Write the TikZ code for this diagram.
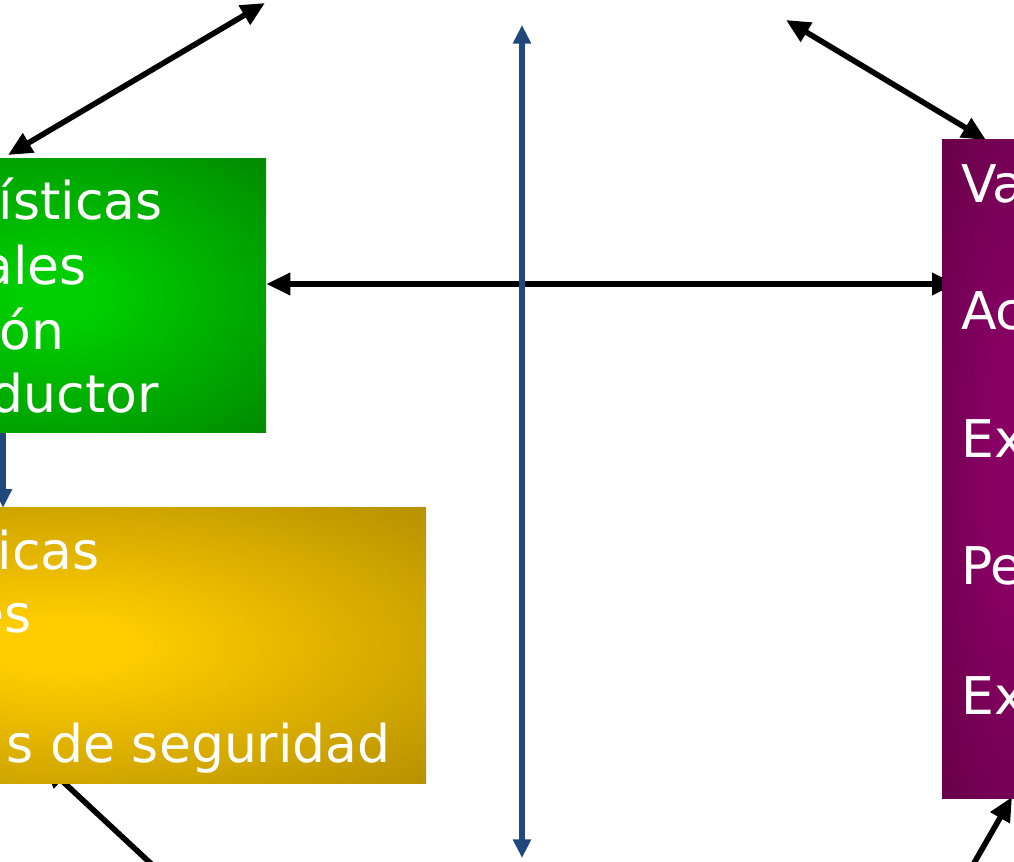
\documentclass[tikz,border=0pt]{standalone}
\usepackage{fontspec}
\setmainfont{DejaVu Sans}
\usetikzlibrary{arrows.meta,backgrounds}

\definecolor{linkblue}{RGB}{31,73,125}
\definecolor{greenlight}{RGB}{0,206,0}
\definecolor{greendark}{RGB}{0,128,0}
\definecolor{goldlight}{RGB}{255,204,0}
\definecolor{golddark}{RGB}{172,136,0}
\definecolor{plumlight}{RGB}{136,0,100}
\definecolor{plumdark}{RGB}{94,0,64}

\pgfdeclareradialshading{greenglow}{\pgfpoint{0bp}{0bp}}{color(0bp)=(greenlight); color(5bp)=(greenlight); color(40bp)=(greendark); color(50bp)=(greendark)}
\pgfdeclareradialshading{goldglow}{\pgfpoint{0bp}{0bp}}{color(0bp)=(goldlight); color(5bp)=(goldlight); color(40bp)=(golddark); color(50bp)=(golddark)}
\pgfdeclareradialshading{plumglow}{\pgfpoint{0bp}{0bp}}{color(0bp)=(plumlight); color(8bp)=(plumlight); color(44bp)=(plumdark); color(50bp)=(plumdark)}

\begin{document}
\begin{tikzpicture}[x=0.75pt,y=-0.75pt,
        factor box/.style={rectangle,inner sep=0pt,shade},
        box text/.style={inner sep=0pt,text=white,font=\fontsize{39}{47}\selectfont},
        link/.style={draw=black,line width=4.2pt,
          {Triangle[length=18pt,width=16pt]}-{Triangle[length=18pt,width=16pt]}},
        blue link/.style={draw=linkblue,line width=4pt,
          {Triangle[length=14pt,width=13pt]}-{Triangle[length=14pt,width=13pt]}}
      ]
      \useasboundingbox (0,0) rectangle (1014,862);

      % boxes, partly outside the page
      \node[factor box,shading=greenglow,minimum width=312pt,minimum height=205.5pt] (greenbox) at (58,296) {};
      \node[factor box,shading=goldglow,minimum width=544.5pt,minimum height=206.25pt] (goldbox) at (63,645.5) {};
      \node[factor box,shading=plumglow,minimum width=102pt,minimum height=493.5pt] (plumbox) at (1010,469) {};

      % texts
      \node[box text,anchor=base east] (g1) at (163,220) {ísticas};
      \node[box text,anchor=base east] (g2) at (87,285)  {ales};
      \node[box text,anchor=base east] (g3) at (65,350)  {ón};
      \node[box text,anchor=base east] (g4) at (159,413) {ductor};
      \node[box text,anchor=base east] (y1) at (100,570) {icas};
      \node[box text,anchor=base east] (y2) at (32,633)  {es};
      \node[box text,anchor=base east] (y4) at (391,762) {s de seguridad};
      \node[box text,anchor=base west] (p1) at (961,203) {Va};
      \node[box text,anchor=base west] (p2) at (961,330) {Ac};
      \node[box text,anchor=base west] (p3) at (961,458) {Ex};
      \node[box text,anchor=base west] (p4) at (961,585) {Pe};
      \node[box text,anchor=base west] (p5) at (961,714) {Ex};

      % free ends of the connectors
      \coordinate (a1) at (8,155);
      \coordinate (a2) at (265,3);
      \coordinate (b1) at (786,20);
      \coordinate (b2) at (986,140);
      \coordinate (hit) at (956,284);
      \coordinate (c1) at (522,25);
      \coordinate (c2) at (522,858);
      \coordinate (drop) at (3,0);
      \coordinate (d1) at (44,764);
      \coordinate (d2) at (190,900);
      \coordinate (e1) at (1012,797);
      \coordinate (e2) at (958,891);

      \begin{scope}[on background layer]
        \fill[white] (0,0) rectangle (1014,862);
        \draw[link] (a1) -- (a2);
        \draw[link] (b1) -- (b2);
        \draw[link] (greenbox.east |- hit) -- (hit);
        \draw[link] (d1) -- (d2);
        \draw[link] (e1) -- (e2);
        \draw[blue link] (c1) -- (c2);
        \draw[blue link,{Triangle[length=14pt,width=13pt]}-] (goldbox.north -| drop) -- (greenbox.south -| drop);
      \end{scope}
    \end{tikzpicture}
\end{document}
